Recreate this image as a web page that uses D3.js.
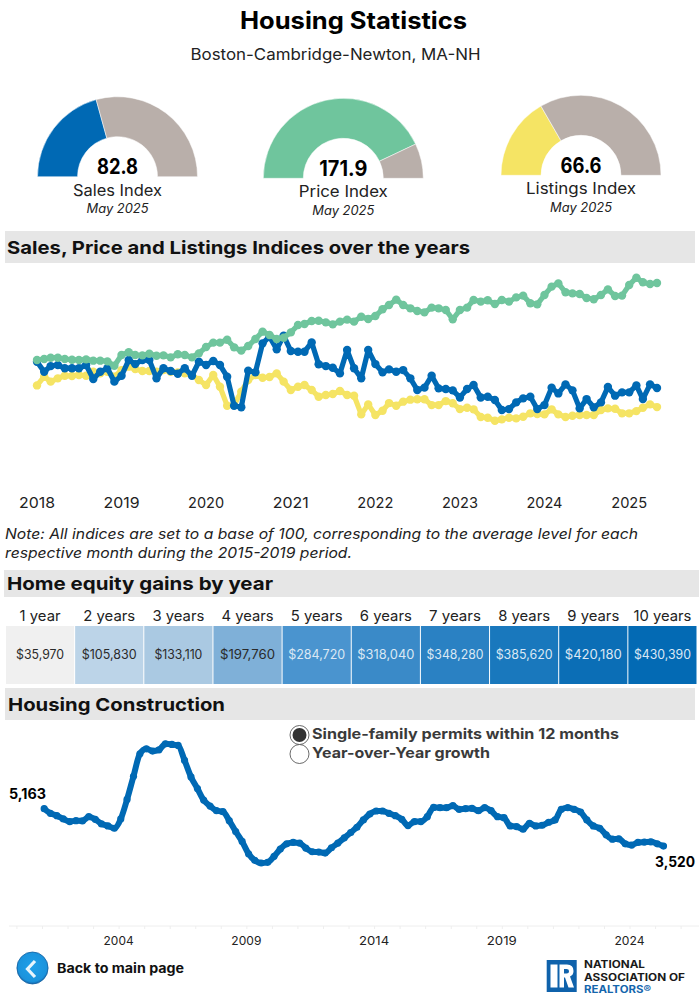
<!DOCTYPE html>
<html><head><meta charset="utf-8">
<script src="https://cdn.jsdelivr.net/npm/d3@7/dist/d3.min.js"></script>
<style>html,body{margin:0;padding:0;background:#fff}svg{display:block}text{font-family:Inter,"Open Sans",sans-serif}</style>
</head><body><svg id="c" width="699" height="999"></svg>
<script>
const gaugeMax = 200;
const gaugeNames = ["Sales Index","Price Index","Listings Index"];
const gaugeValues = [82.8,171.9,66.6];
const gaugeLabels = ["82.8","171.9","66.6"];

const years = [2018,2019,2020,2021,2022,2023,2024,2025];
const priceIndex = [106.5,107.4,108.5,108.5,107.4,106.8,106.5,107.1,106.0,106.0,105.4,101.7,110.8,113.1,110.8,110.5,111.9,110.2,110.5,108.8,111.4,110.8,108.8,112.2,117.6,121.3,121.3,123.8,117.3,114.5,118.4,124.4,130.6,127.8,124.4,125.5,130.0,136.3,137.1,139.7,139.9,138.5,136.8,139.1,140.8,139.1,143.3,141.4,143.9,149.6,153.2,157.8,153.2,150.4,148.1,147.0,151.0,150.4,149.0,141.1,149.0,151.0,157.5,156.1,157.2,154.1,157.5,156.1,159.7,161.2,154.7,153.8,161.7,168.8,171.6,164.0,163.1,162.6,159.2,158.1,161.7,166.5,160.9,161.2,170.2,176.4,172.5,171.1,171.9];
const salesIndex = [105.1,96.6,101.4,102.3,99.5,99.5,99.5,102.3,90.4,96.6,99.5,88.2,93.2,106.5,103.1,106.5,106.5,91.0,99.5,97.2,94.9,99.5,93.2,105.1,102.3,105.7,102.3,92.4,67.8,66.4,97.5,96.1,120.7,126.4,115.6,127.2,114.2,113.6,113.6,121.5,102.9,101.4,100.0,95.2,115.0,99.5,91.0,115.0,103.1,96.1,98.6,96.6,98.0,91.0,81.1,83.1,93.2,82.5,81.9,80.8,74.8,81.9,85.3,74.8,75.4,72.6,64.1,64.9,70.6,74.0,75.4,64.9,68.3,83.1,78.2,85.9,80.8,65.5,73.4,66.4,70.6,83.6,76.3,79.1,79.1,85.0,73.4,85.9,82.8];
const listingsIndex = [85.0,92.4,88.2,91.0,93.2,93.0,93.8,93.2,96.6,95.2,96.6,92.4,98.0,100.9,98.9,97.2,97.2,96.6,98.0,96.6,96.1,95.2,93.8,89.6,85.3,93.8,83.9,67.8,68.3,79.7,89.6,93.8,91.5,92.1,95.2,88.2,81.1,83.9,85.3,81.1,75.4,76.8,77.7,80.2,76.8,76.3,60.4,68.9,59.9,63.5,70.0,67.8,71.2,72.9,73.2,73.2,68.3,68.3,71.7,69.8,64.9,66.1,64.7,58.2,57.6,55.0,56.2,57.6,57.0,58.4,61.3,60.7,60.4,64.7,60.4,58.2,59.3,59.9,59.9,59.9,64.1,65.5,65.2,61.3,61.3,63.2,66.1,68.9,66.6];

const equityLabels = ["1 year","2 years","3 years","4 years","5 years","6 years","7 years","8 years","9 years","10 years"];
const equityValues = [35970,105830,133110,197760,284720,318040,348280,385620,420180,430390];

const permitYears = [2004,2009,2014,2019,2024];
const permits = [5163,4959,4857,4711,4595,4638,4624,4813,4697,4493,4405,4303,4711,5571,6591,7582,7800,7698,7756,8019,7990,7946,7290,6562,6052,5542,5280,5076,5032,4638,4158,3721,3181,2890,2774,2803,3065,3385,3619,3677,3648,3429,3269,3254,3211,3444,3648,3881,4114,4347,4668,4930,5061,5061,4959,4857,4697,4420,4595,4595,4813,5221,5207,5207,5294,5134,5163,5178,5076,5207,5076,4813,4770,4405,4376,4260,4522,4405,4434,4566,4668,5134,5207,5134,5017,4668,4405,4303,4012,3823,3837,3619,3561,3677,3692,3707,3619,3520];

const BLUE="#0069b4", GREEN="#6fc59d", YELLOW="#f5e464", TAUPE="#b9afaa";
const svg = d3.select("#c");

function label(str,x,y,size,o={}){
  const t = svg.append("text").attr("x",x).attr("y",y).text(str)
    .attr("font-size",size).attr("font-weight",o.weight||400)
    .attr("font-style",o.italic?"italic":null)
    .attr("text-anchor",o.anchor||"start").attr("fill",o.fill||"#111");
  if(o.width) t.attr("textLength",o.width).attr("lengthAdjust","spacingAndGlyphs");
  return t;
}
function band(x,y,w,h){svg.append("rect").attr("x",x).attr("y",y).attr("width",w).attr("height",h).attr("fill","#e6e6e6");}

label("Housing Statistics",353.5,29,24,{weight:700,anchor:"middle",width:227,fill:"#000"});
label("Boston-Cambridge-Newton, MA-NH",335.5,60,16,{anchor:"middle",width:290,fill:"#222"});

// gauges
const gaugeCenters=[[117.5,176.7],[343.3,178.3],[581,175.3]];
const gaugeColors=[BLUE,GREEN,YELLOW];
const gaugeWidths=[89,89,110];
const pie=d3.pie().sort(null).startAngle(-Math.PI/2).endAngle(Math.PI/2);
const arc=d3.arc().innerRadius(40).outerRadius(80);
gaugeValues.forEach((v,i)=>{
  const [cx,cy]=gaugeCenters[i];
  const g=svg.append("g").attr("transform",`translate(${cx},${cy})`);
  g.selectAll("path").data(pie([v,gaugeMax-v])).join("path").attr("d",arc)
    .attr("fill",(d,j)=>j==0?gaugeColors[i]:TAUPE).attr("stroke","#fff").attr("stroke-width",0.5);
  label(gaugeLabels[i],cx,cy-2.5,21,{weight:700,anchor:"middle",fill:"#000",width:i==1?48:41});
  label(gaugeNames[i],cx,cy+19,15.5,{anchor:"middle",width:gaugeWidths[i],fill:"#222"});
  label("May 2025",cx,cy+36.5,12.5,{anchor:"middle",italic:true,width:62,fill:"#222"});
});

// indices chart
band(5,231,690,32);
label("Sales, Price and Listings Indices over the years",7,254,18,{weight:700,width:463,fill:"#111"});
const months=priceIndex.map((_,i)=>new Date(2018,i,1));
const xTop=d3.scaleTime().domain([new Date(2018,0,1),new Date(2025,4,1)]).range([37,657]);
const yTop=d3.scaleLinear().domain([82.8,171.9]).range([388,283]);
[[listingsIndex,YELLOW],[salesIndex,BLUE],[priceIndex,GREEN]].forEach(([arr,col])=>{
  const line=d3.line().x((d,i)=>xTop(months[i])).y(d=>yTop(d));
  svg.append("path").attr("d",line(arr)).attr("fill","none").attr("stroke",col).attr("stroke-width",5.2).attr("stroke-linejoin","round");
  svg.append("g").selectAll("circle").data(arr).join("circle")
    .attr("cx",(d,i)=>xTop(months[i])).attr("cy",d=>yTop(d)).attr("r",4.2).attr("fill",col);
});
years.forEach(y=>label(String(y),xTop(new Date(y,0,1)),508,15,{anchor:"middle",width:36,fill:"#222"}));
label("Note: All indices are set to a base of 100, corresponding to the average level for each",5,539,14.5,{italic:true,width:633,fill:"#222"});
label("respective month during the 2015-2019 period.",5,558,14.5,{italic:true,width:347,fill:"#222"});

// equity heat strip
band(4,570,695,27);
label("Home equity gains by year",7,590,18,{weight:700,width:266,fill:"#111"});
const xCell=d3.scaleBand().domain(equityLabels).range([5.5,697]);
const cellColors=["#f0f0f0","#bcd4e8","#aac9e2","#7fb0d8","#4a94cf","#3a8ac8","#2a81c3","#1978bd","#0b6eb6","#036ab4"];
equityValues.forEach((v,i)=>{
  const n=equityLabels[i];
  svg.append("rect").attr("x",xCell(n)+0.5).attr("y",626).attr("width",xCell.bandwidth()-1).attr("height",58).attr("fill",cellColors[i]);
  const cx=xCell(n)+xCell.bandwidth()/2;
  label(n,cx,621,14.5,{anchor:"middle",width:n.length>=8?58:(i==0?41:52),fill:"#222"});
  const s="$"+d3.format(",")(v);
  label(s,cx,659,12.5,{anchor:"middle",width:i==0?48:(i==2?48:(i<4?55:57)),fill:i<4?"#2a2a2a":"#dbe8f4"});
});

// construction
band(5,688,690,32);
label("Housing Construction",8,711,18,{weight:700,width:217,fill:"#111"});
svg.append("circle").attr("cx",299.5).attr("cy",735).attr("r",9.5).attr("fill","#fff").attr("stroke","#444").attr("stroke-width",0.8);
svg.append("circle").attr("cx",299.5).attr("cy",735).attr("r",7).attr("fill","#333");
svg.append("circle").attr("cx",299.5).attr("cy",754).attr("r",9.5).attr("fill","#fff").attr("stroke","#444").attr("stroke-width",0.8);
label("Single-family permits within 12 months",312,739,14.5,{weight:700,width:307,fill:"#3a3a3a"});
label("Year-over-Year growth",312,758,14.5,{weight:700,width:178,fill:"#3a3a3a"});

const quarters=permits.map((_,i)=>new Date(2001,1+i*3,1));
const xB=d3.scaleTime().domain([new Date(2004,0,1),new Date(2024,0,1)]).range([118.6,629.5]);
const yB=d3.scaleLinear().domain([0,5163]).range([926,808.7]);
const axisG=svg.append("g").attr("transform","translate(0,926)");
axisG.call(d3.axisBottom(xB).tickValues(d3.range(2000,2027).map(y=>new Date(y,0,1))).tickSize(3).tickFormat(""));
axisG.select(".domain").attr("d","M9,0H699").attr("stroke","#eeeeee");
axisG.selectAll("line").attr("stroke","#eeeeee");
permitYears.forEach(y=>label(String(y),xB(new Date(y,0,1)),945,11.5,{anchor:"middle",width:30,fill:"#222"}));
const lineB=d3.line().curve(d3.curveMonotoneX).x((d,i)=>xB(quarters[i])).y(d=>yB(d));
svg.append("path").attr("d",lineB(permits)).attr("fill","none").attr("stroke",BLUE).attr("stroke-width",6).attr("stroke-linejoin","round").attr("stroke-linecap","round");
svg.append("g").selectAll("circle").data(permits).join("circle")
  .attr("cx",(d,i)=>xB(quarters[i])).attr("cy",d=>yB(d)).attr("r",3.6).attr("fill",BLUE);
label(d3.format(",")(permits[0]),9,799,14,{weight:700,width:37,fill:"#000"});
label(d3.format(",")(permits[permits.length-1]),655,867,14,{weight:700,width:40,fill:"#000"});

// footer
const defs=svg.append("defs");
const grad=defs.append("radialGradient").attr("id","btn").attr("cx","50%").attr("cy","45%").attr("r","55%");
grad.append("stop").attr("offset","0%").attr("stop-color","#1fa0ea");
grad.append("stop").attr("offset","85%").attr("stop-color","#1b93dc");
grad.append("stop").attr("offset","100%").attr("stop-color","#1468ae");
svg.append("ellipse").attr("cx",32.5).attr("cy",968).attr("rx",15.6).attr("ry",16).attr("fill","url(#btn)").attr("stroke","#14609f").attr("stroke-width",0.8);
svg.append("path").attr("d","M35,961L27.5,969L35,977").attr("fill","none").attr("stroke","#e8f5fc").attr("stroke-width",3.2);
label("Back to main page",57,973,13,{weight:700,width:127,fill:"#111"});

svg.append("rect").attr("x",546.7).attr("y",960).attr("width",30).attr("height",32).attr("fill","#0f62ab");
svg.append("rect").attr("x",550.5).attr("y",964.5).attr("width",7).attr("height",23).attr("fill","#fff");
svg.append("path").attr("d","M559.5,964.5H567Q573.5,964.5 573.5,971Q573.5,975 570,976.5L574,987.5H568.5L565,977.5H564V987.5H559.5Z").attr("fill","#fff");
svg.append("path").attr("d","M564,969H566.5Q569,969 569,971Q569,973.5 566.5,973.5H564Z").attr("fill","#0f62ab");
label("NATIONAL",584,968,10,{weight:700,width:61,fill:"#1a1a1a"});
label("ASSOCIATION OF",584,980.5,10,{weight:700,width:101,fill:"#1a1a1a"});
label("REALTORS®",584,993,10,{weight:700,width:67,fill:"#1566ad"});
</script></body></html>
